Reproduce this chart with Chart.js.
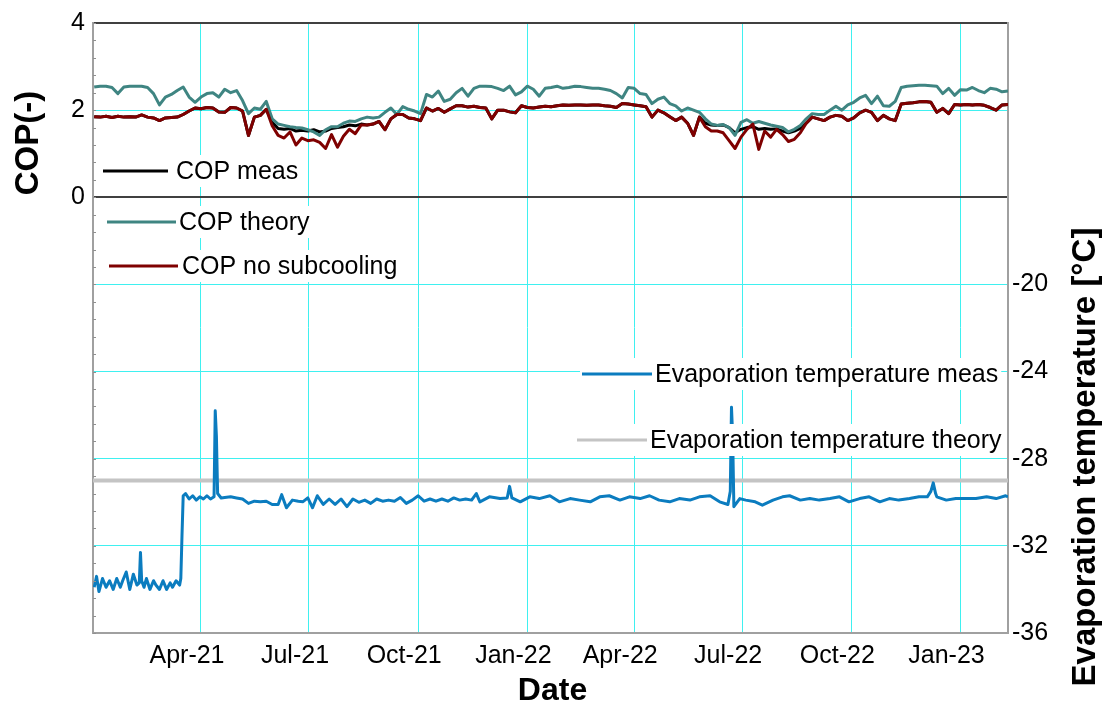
<!DOCTYPE html>
<html><head><meta charset="utf-8">
<script src="https://cdn.jsdelivr.net/npm/chart.js@4.4.1/dist/chart.umd.min.js"></script>
<style>html,body{margin:0;padding:0;background:#fff;}#wrap{width:1102px;height:704px;}</style>
</head><body><div id="wrap"><canvas id="c" width="1102" height="704"></canvas></div>
<script>
// Days since 2021-01-01
const copDays = [0,5,10,15,20,25,30,35,40,45,50,55,60,65,70,75,80,85,90,95,100,105,110,115,120,125,130,135,140,145,150,155,160,165,170,175,180,185,190,195,200,205,210,215,220,225,230,235,240,245,250,255,260,265,270,275,280,285,290,295,300,305,310,315,320,325,330,335,340,345,350,355,360,365,370,375,380,385,390,395,400,405,410,415,420,425,430,435,440,445,450,455,460,465,470,475,480,485,490,495,500,505,510,515,520,525,530,535,540,545,550,555,560,565,570,575,580,585,590,595,600,605,610,615,620,625,630,635,640,645,650,655,660,665,670,675,680,685,690,695,700,705,710,715,720,725,730,735,740,745,750,755,760,765,770];
const copTheory = [2.53,2.55,2.55,2.52,2.38,2.53,2.55,2.55,2.55,2.52,
2.38,2.12,2.30,2.36,2.45,2.53,2.30,2.18,2.30,2.38,
2.40,2.30,2.48,2.40,2.45,2.22,1.92,2.05,2.02,2.20,
1.80,1.68,1.65,1.62,1.60,1.59,1.55,1.50,1.42,1.55,
1.62,1.62,1.70,1.75,1.74,1.80,1.84,1.82,1.84,1.95,
2.05,1.90,2.08,2.02,1.98,1.92,2.36,2.30,2.44,2.20,
2.25,2.40,2.50,2.32,2.50,2.55,2.55,2.54,2.50,2.45,
2.55,2.35,2.42,2.55,2.48,2.32,2.50,2.52,2.55,2.50,
2.52,2.55,2.54,2.52,2.50,2.50,2.48,2.45,2.38,2.28,
2.52,2.50,2.38,2.36,2.15,2.25,2.30,2.15,2.10,1.98,
2.05,2.00,1.95,1.80,1.68,1.65,1.67,1.60,1.42,1.72,
1.78,1.70,1.74,1.70,1.66,1.63,1.60,1.50,1.56,1.65,
1.80,1.92,1.90,1.90,2.00,2.09,2.00,2.12,2.18,2.28,
2.34,2.15,2.32,2.10,2.09,2.20,2.52,2.55,2.56,2.57,
2.57,2.56,2.55,2.38,2.50,2.34,2.47,2.46,2.52,2.45,
2.40,2.50,2.48,2.42,2.44];
const copNoSubcooling = [1.85,1.84,1.86,1.83,1.86,1.84,1.85,1.84,1.89,1.84,
1.82,1.76,1.82,1.83,1.84,1.90,1.98,2.05,2.03,2.06,
2.05,1.96,1.95,2.06,2.05,1.98,1.42,1.84,1.88,2.02,
1.64,1.42,1.36,1.50,1.20,1.36,1.30,1.32,1.26,1.12,
1.44,1.15,1.40,1.56,1.46,1.66,1.66,1.68,1.74,1.55,
1.80,1.90,1.90,1.82,1.80,1.76,2.05,1.98,2.04,1.95,
2.03,2.10,2.10,2.07,2.09,2.06,2.05,1.80,2.00,2.00,
1.96,1.94,2.10,2.06,2.05,2.07,2.09,2.08,2.10,2.12,
2.11,2.12,2.12,2.11,2.12,2.12,2.10,2.09,2.06,2.15,
2.14,2.12,2.10,2.08,1.84,2.00,1.94,1.85,1.76,1.84,
1.70,1.42,1.84,1.62,1.52,1.52,1.48,1.30,1.12,1.38,
1.56,1.68,1.10,1.52,1.38,1.56,1.44,1.28,1.33,1.48,
1.70,1.84,1.80,1.76,1.84,1.88,1.86,1.76,1.82,1.94,
2.00,1.95,1.76,1.88,1.80,1.76,2.14,2.16,2.17,2.19,
2.20,2.18,1.95,2.04,1.92,2.13,2.12,2.13,2.12,2.13,
2.11,2.06,2.00,2.12,2.13];
const copMeas = [1.85,1.84,1.86,1.83,1.86,1.84,1.85,1.84,1.89,1.84,
1.82,1.76,1.82,1.83,1.84,1.90,1.98,2.05,2.03,2.06,
2.05,1.96,1.95,2.06,2.05,1.98,1.42,1.84,1.88,2.02,
1.72,1.58,1.56,1.58,1.52,1.54,1.52,1.55,1.50,1.52,
1.58,1.60,1.62,1.66,1.64,1.68,1.66,1.68,1.74,1.55,
1.80,1.90,1.90,1.82,1.80,1.76,2.05,1.98,2.04,1.95,
2.03,2.10,2.10,2.07,2.09,2.06,2.05,1.80,2.00,2.00,
1.96,1.94,2.10,2.06,2.05,2.07,2.09,2.08,2.10,2.12,
2.11,2.12,2.12,2.11,2.12,2.12,2.10,2.09,2.06,2.15,
2.14,2.12,2.10,2.08,1.84,2.00,1.94,1.85,1.76,1.84,
1.70,1.42,1.84,1.70,1.66,1.65,1.66,1.60,1.48,1.56,
1.60,1.62,1.56,1.58,1.56,1.57,1.52,1.48,1.52,1.58,
1.70,1.84,1.80,1.76,1.84,1.88,1.86,1.76,1.82,1.94,
2.00,1.95,1.76,1.88,1.80,1.76,2.14,2.16,2.17,2.19,
2.20,2.18,1.95,2.04,1.92,2.13,2.12,2.13,2.12,2.13,
2.11,2.06,2.00,2.12,2.13];
const evapDays = [0,2,4,7,10,13,16,19,22,24,27,30,33,36,38,39,40,42,44,47,50,52,55,58,61,64,66,69,72,73,74,75,77,80,83,86,89,92,95,98,101,102,103,104,107,110,115,120,125,130,135,140,145,150,155,158,162,167,172,176,180,184,188,193,198,203,208,213,218,223,228,233,238,243,248,253,258,263,268,273,278,283,288,293,298,303,308,313,318,322,325,333,342,348,350,352,359,367,375,384,392,401,409,418,426,434,443,451,460,468,476,485,493,502,510,519,527,534,536,537,538,539,544,549,557,563,572,580,586,595,603,611,620,628,636,645,653,662,670,678,687,695,702,705,707,709,710,718,726,735,743,752,760,768,770];
const evapMeas = [-33.9,-33.4,-34.1,-33.5,-33.9,-33.6,-34.0,-33.5,-33.9,-33.6,-33.2,-34.0,-33.3,-33.8,-33.7,-32.3,-33.6,-33.9,-33.5,-34.0,-33.6,-33.8,-34.0,-33.6,-34.0,-33.7,-33.9,-33.6,-33.8,-33.5,-31.5,-29.7,-29.6,-29.85,-29.7,-29.9,-29.75,-29.85,-29.7,-29.85,-29.75,-25.8,-27.0,-29.6,-29.8,-29.78,-29.75,-29.8,-29.85,-30.05,-29.95,-29.97,-29.95,-30.1,-30.1,-29.65,-30.25,-29.9,-29.95,-29.97,-29.8,-30.25,-29.7,-30.1,-29.85,-30.1,-29.85,-30.2,-29.85,-30.0,-29.9,-30.05,-29.85,-29.95,-29.9,-29.95,-29.78,-30.05,-29.9,-29.7,-29.95,-29.85,-29.95,-29.85,-29.95,-29.8,-29.9,-29.85,-29.9,-29.6,-29.98,-29.75,-29.83,-29.8,-29.27,-29.8,-29.98,-29.75,-29.83,-29.7,-29.98,-29.83,-29.9,-29.98,-29.75,-29.7,-29.9,-29.75,-29.83,-29.7,-29.9,-29.98,-29.83,-29.9,-29.75,-29.7,-29.98,-30.1,-29.5,-25.64,-27.0,-30.2,-29.83,-29.9,-29.98,-30.13,-29.9,-29.75,-29.7,-29.9,-29.83,-29.9,-29.83,-29.75,-29.98,-29.83,-29.75,-29.98,-29.83,-29.9,-29.83,-29.75,-29.75,-29.5,-29.11,-29.6,-29.75,-29.9,-29.83,-29.83,-29.83,-29.75,-29.83,-29.7,-29.75];
const evapTheoryDays = [-1, 770];
const evapTheory = [-29, -29];
const tickDays = [90,181,273,365,455,546,638,730];
const tickLabels = ['Apr-21','Jul-21','Oct-21','Jan-22','Apr-22','Jul-22','Oct-22','Jan-23'];
const copTicks = [0,2,4];
const tempTicks = [-36,-32,-28,-24,-20];
const seriesNames = ['COP meas','COP theory','COP no subcooling','Evaporation temperature meas','Evaporation temperature theory'];

const FONT = "'Liberation Sans', Arial, sans-serif";
const CYAN = '#3ff0f0';
const COLORS = ['#000000','#3f8582','#7f0000','#0b7cbf','#c4c4c4'];
const pts = (xs, ys) => xs.map((x, i) => ({x: x, y: ys[i]}));

const legendPos = [
  {ds:0, x1:10, x2:75, y:171, tx:83},
  {ds:1, x1:14, x2:83, y:222, tx:86},
  {ds:2, x1:16, x2:85, y:266, tx:89},
  {ds:3, x1:489, x2:559, y:374, tx:562},
  {ds:4, x1:484, x2:554, y:440, tx:557}
];

const decorPlugin = {
  id: 'decor',
  afterDatasetsDraw(chart) {
    const ctx = chart.ctx, a = chart.chartArea;
    ctx.save();
    const ys = chart.scales.y;
    ctx.strokeStyle = '#909090'; ctx.lineWidth = 1;
    for (let k = 0; k <= 35; k++) {
      const v = -10 + k * 0.4;
      const py = Math.round(ys.getPixelForValue(v)) + 0.5;
      ctx.beginPath(); ctx.moveTo(a.left, py); ctx.lineTo(a.left + 3, py); ctx.stroke();
    }
    ctx.font = '25px ' + FONT;
    ctx.textBaseline = 'middle';
    ctx.textAlign = 'left';
    legendPos.forEach(p => {
      const ds = chart.data.datasets[p.ds];
      const label = seriesNames[p.ds];
      const w = ctx.measureText(label).width;
      const x1 = a.left + p.x1, x2 = a.left + p.x2, tx = a.left + p.tx;
      ctx.fillStyle = '#ffffff';
      ctx.fillRect(x1 - 2, p.y - 16, (tx + w + 3) - (x1 - 2), 32);
      ctx.strokeStyle = ds.borderColor; ctx.lineWidth = 3;
      ctx.beginPath(); ctx.moveTo(x1, p.y); ctx.lineTo(x2, p.y); ctx.stroke();
      ctx.fillStyle = '#000';
      ctx.fillText(label, tx, p.y + 1);
    });
    ctx.restore();
  },
  afterDraw(chart) {
    const ctx = chart.ctx, a = chart.chartArea;
    ctx.save();
    ctx.fillStyle = '#000';
    ctx.textAlign = 'center'; ctx.textBaseline = 'middle';
    ctx.font = 'bold 32px ' + FONT;
    ctx.fillText('Date', (a.left + a.right) / 2 + 2, a.bottom + 58);
    ctx.save();
    ctx.font = 'bold 33px ' + FONT;
    ctx.translate(29, 143); ctx.rotate(-Math.PI / 2);
    ctx.fillText('COP(-)', 0, 0);
    ctx.restore();
    ctx.font = 'bold 33px ' + FONT;
    ctx.translate(1086, 457); ctx.rotate(-Math.PI / 2);
    ctx.fillText('Evaporation temperature [°C]', 0, 0);
    ctx.restore();
  }
};

new Chart(document.getElementById('c'), {
  type: 'line',
  data: {
    datasets: [
      {label: seriesNames[0], data: pts(copDays, copMeas), yAxisID: 'y', borderColor: COLORS[0], borderWidth: 3, order: 2},
      {label: seriesNames[1], data: pts(copDays, copTheory), yAxisID: 'y', borderColor: COLORS[1], borderWidth: 3, order: 1},
      {label: seriesNames[2], data: pts(copDays, copNoSubcooling), yAxisID: 'y', borderColor: COLORS[2], borderWidth: 3, order: 0},
      {label: seriesNames[3], data: pts(evapDays, evapMeas), yAxisID: 'y2', borderColor: COLORS[3], borderWidth: 3, order: 3},
      {label: seriesNames[4], data: pts(evapTheoryDays, evapTheory), yAxisID: 'y2', borderColor: COLORS[4], borderWidth: 4, order: 4}
    ]
  },
  options: {
    responsive: false,
    animation: false,
    devicePixelRatio: 1,
    layout: {padding: {top: 22, left: 0, right: 0, bottom: 0}},
    elements: {point: {radius: 0}, line: {tension: 0, borderJoinStyle: 'round', fill: false}},
    plugins: {legend: {display: false}, tooltip: {enabled: false}},
    scales: {
      x: {
        type: 'linear', position: 'bottom', min: -1, max: 770,
        afterBuildTicks: s => { s.ticks = tickDays.map(v => ({value: v})); },
        afterFit: s => { s.height = 71; },
        ticks: {autoSkip: false, maxRotation: 0, minRotation: 0, padding: 8, labelOffset: -14,
          callback: (v, i) => tickLabels[i], color: '#000', font: {family: FONT, size: 25}},
        grid: {color: CYAN, lineWidth: 1, drawTicks: false},
        border: {display: true, color: '#a0a0a0', width: 2}
      },
      y: {
        type: 'linear', position: 'left', min: -10, max: 4,
        afterBuildTicks: s => { s.ticks = copTicks.map(v => ({value: v})); },
        afterFit: s => { s.width = 93; },
        ticks: {padding: 8, color: '#000', font: {family: FONT, size: 25}},
        grid: {drawTicks: false,
          color: c => (c.tick && c.tick.value === 2) ? CYAN : '#404040',
          lineWidth: c => (c.tick && c.tick.value === 2) ? 1 : 2},
        border: {display: true, color: '#a0a0a0', width: 2}
      },
      y2: {
        type: 'linear', position: 'right', min: -36, max: -8,
        afterBuildTicks: s => { s.ticks = tempTicks.map(v => ({value: v})); },
        afterFit: s => { s.width = 94; },
        ticks: {padding: 4, color: '#000', font: {family: FONT, size: 25}},
        grid: {drawTicks: false,
          color: c => (c.tick && c.tick.value === -36) ? 'rgba(0,0,0,0)' : CYAN,
          lineWidth: 1},
        border: {display: true, color: '#a0a0a0', width: 2}
      }
    }
  },
  plugins: [decorPlugin]
});
</script></body></html>
